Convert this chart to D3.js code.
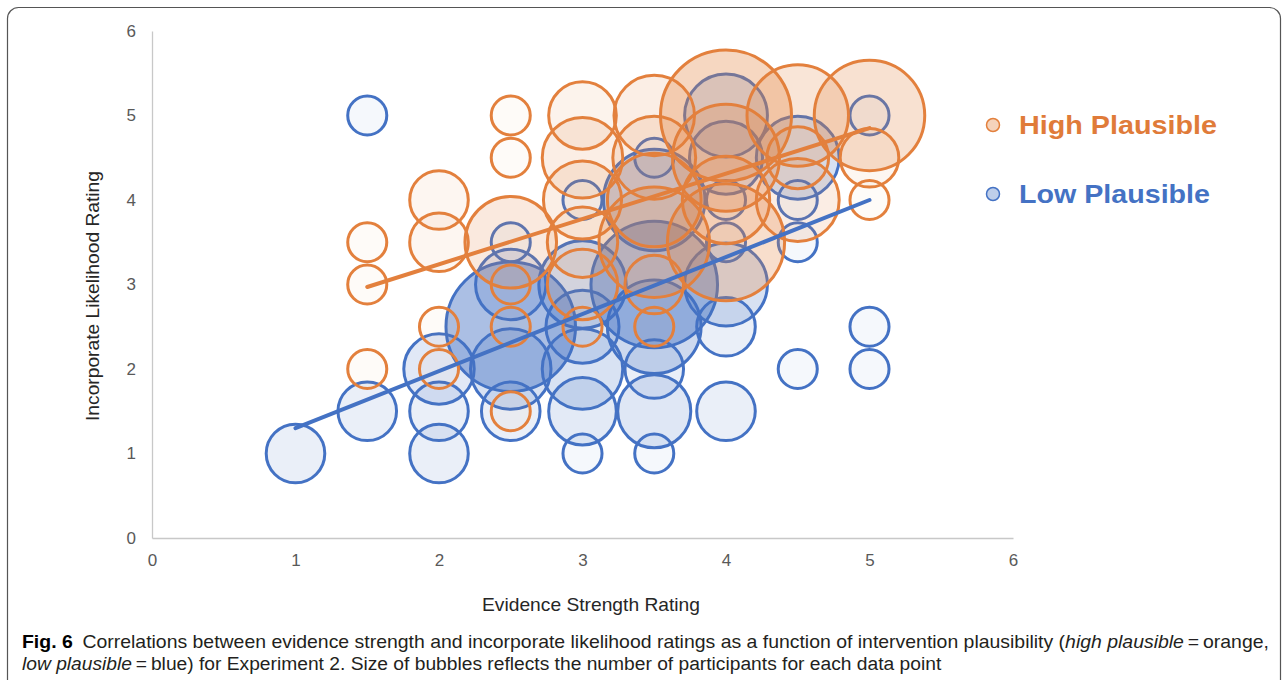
<!DOCTYPE html>
<html>
<head>
<meta charset="utf-8">
<script src="https://cdn.jsdelivr.net/npm/d3@7"></script>
<style>
  html, body { margin: 0; padding: 0; background: #fff; }
  svg { display: block; }
  .sans { font-family: "Liberation Sans", Arial, Helvetica, sans-serif; }
  .narrow { font-family: "Liberation Sans Narrow", "Arial Narrow", "Liberation Sans", Arial, sans-serif; }
</style>
</head>
<body>
<svg id="chart" width="1284" height="680"></svg>
<script>
// ---------- data ----------
const xTicks = [0, 1, 2, 3, 4, 5, 6];
const yTicks = [0, 1, 2, 3, 4, 5, 6];

// High Plausible (orange) bubbles: x, y, participant weight
const highX = [1.5, 1.5, 1.5, 2, 2, 2, 2, 2.5, 2.5, 2.5, 2.5, 2.5, 2.5, 3, 3, 3, 3, 3, 3, 3.5, 3.5, 3.5, 3.5, 3.5, 3.5, 4, 4, 4, 4, 4.5, 4.5, 4.5, 5, 5, 5];
const highY = [3.5, 3, 2, 4, 3.5, 2.5, 2, 5, 4.5, 3.5, 3, 2.5, 1.5, 5, 4.5, 4, 3.5, 3, 2.5, 5, 4.5, 4, 3.5, 3, 2.5, 5, 4.5, 4, 3.5, 5, 4.5, 4, 5, 4.5, 4];
const highN = [4, 4, 4, 9, 9, 4, 4, 4, 4, 22, 4, 4, 4, 12, 17, 16, 13, 13, 4, 17, 18, 23, 32, 9, 4, 45, 30, 20, 36, 27, 10, 18, 32, 9, 4];

// Low Plausible (blue) bubbles
const lowX = [1, 1.5, 1.5, 2, 2, 2, 2.5, 2.5, 2.5, 2.5, 2.5, 3, 3, 3, 3, 3, 3, 3.5, 3.5, 3.5, 3.5, 3.5, 3.5, 3.5, 4, 4, 4, 4, 4, 4, 4, 4.5, 4.5, 4.5, 4.5, 5, 5, 5];
const lowY = [1, 5, 1.5, 2, 1.5, 1, 3.5, 3, 2.5, 2, 1.5, 4, 3, 2.5, 2, 1.5, 1, 4.5, 4, 3, 2.5, 2, 1.5, 1, 5, 4.5, 4, 3.5, 3, 2.5, 1.5, 4.5, 4, 3.5, 2, 5, 2.5, 2];
const lowN = [9, 4, 9, 13, 9, 9, 4, 13, 44, 17, 9, 4, 20, 14, 17, 12, 4, 4, 27, 42, 23, 9, 14, 4, 18, 14, 4, 4, 18, 9, 9, 18, 4, 4, 4, 4, 4, 4];

// Linear trendlines: [slope, intercept], x range
const highTrend = [0.537, 2.165];
const highTrendRange = [1.5, 5];
const lowTrend = [0.675, 0.625];
const lowTrendRange = [1, 5];

const seriesNames = ["High Plausible", "Low Plausible"];

// ---------- drawing ----------
const W = 1284, H = 680;
const svg = d3.select("#chart");
const orange = "#e3803d", orangeText = "#e07b39", blue = "#4472c4";

svg.append("rect").attr("width", W).attr("height", H).attr("fill", "#fff");

// frame
svg.append("rect")
  .attr("x", 7.5).attr("y", 7.5).attr("width", 1273).attr("height", 720)
  .attr("rx", 11).attr("fill", "none").attr("stroke", "#555").attr("stroke-width", 1.2);

const x = d3.scaleLinear().domain([0, 6]).range([152, 1013]);
const y = d3.scaleLinear().domain([0, 6]).range([538, 31]);
const r = d3.scaleSqrt().domain([0, 45]).range([0, 65.5]);

// axes
const gx = svg.append("g").attr("transform", `translate(0,${y(0)})`)
  .call(d3.axisBottom(x).tickValues(xTicks).tickSize(0).tickPadding(16).tickFormat(d3.format("d")));
const gy = svg.append("g").attr("transform", `translate(${x(0)},0)`)
  .call(d3.axisLeft(y).tickValues(yTicks).tickSize(0).tickPadding(16).tickFormat(d3.format("d")));
[gx, gy].forEach(g => {
  g.attr("font-family", null).attr("font-size", null);
  g.select(".domain").attr("stroke", "#c8c8c8").attr("stroke-width", 1.3);
  g.selectAll("text").attr("class", "sans").style("font-size", "17px").attr("fill", "#595959");
});

// bubbles
function bubbles(xs, ys, ns, color, a) {
  const data = xs.map((d, i) => ({ x: d, y: ys[i], n: ns[i] }))
    .sort((p, q) => q.n - p.n);
  svg.append("g").selectAll("circle").data(data).join("circle")
    .attr("cx", d => x(d.x)).attr("cy", d => y(d.y)).attr("r", d => r(d.n))
    .attr("fill", color).attr("fill-opacity", d => 1 - Math.pow(1 - a, d.n))
    .attr("stroke", color).attr("stroke-width", 3);
}
bubbles(lowX, lowY, lowN, blue, 0.0135);
bubbles(highX, highY, highN, orange, 0.0085);

// trendlines
function trend(t, range, color) {
  svg.append("line")
    .attr("x1", x(range[0])).attr("y1", y(t[0] * range[0] + t[1]))
    .attr("x2", x(range[1])).attr("y2", y(t[0] * range[1] + t[1]))
    .attr("stroke", color).attr("stroke-width", 4).attr("stroke-linecap", "round");
}
trend(highTrend, highTrendRange, orange);
trend(lowTrend, lowTrendRange, blue);

// axis titles
svg.append("text").attr("class", "sans").attr("x", 591).attr("y", 611).attr("text-anchor", "middle")
  .style("font-size", "19px").attr("fill", "#262626")
  .attr("textLength", 218).attr("lengthAdjust", "spacingAndGlyphs")
  .text("Evidence Strength Rating");
svg.append("text").attr("class", "sans").attr("transform", "translate(99,296) rotate(-90)").attr("text-anchor", "middle")
  .style("font-size", "19px").attr("fill", "#262626")
  .attr("textLength", 250).attr("lengthAdjust", "spacingAndGlyphs")
  .text("Incorporate Likelihood Rating");

// legend
const legColors = [[orange, orangeText], [blue, blue]];
const legWidths = [198, 191];
seriesNames.forEach((name, i) => {
  const cy = 125 + i * 69;
  svg.append("circle").attr("cx", 993).attr("cy", cy).attr("r", 6.5)
    .attr("fill", legColors[i][0]).attr("fill-opacity", 0.35)
    .attr("stroke", legColors[i][0]).attr("stroke-width", 1.5);
  svg.append("text").attr("class", "sans").attr("x", 1019).attr("y", cy + 9)
    .style("font-weight", "bold").style("font-size", "25px")
    .attr("textLength", legWidths[i]).attr("lengthAdjust", "spacingAndGlyphs")
    .attr("fill", legColors[i][1]).text(name);
});

// caption
function captionLine(yPos, parts, targetW) {
  const t = svg.append("text").attr("class", "narrow").attr("x", 0).attr("y", 0)
    .style("font-size", "18px").attr("fill", "#231f20");
  parts.forEach(p => {
    const s = t.append("tspan").text(p.t);
    if (p.b) s.style("font-weight", "bold").attr("fill", "#000");
    if (p.i) s.style("font-style", "italic");
  });
  const w = t.node().getComputedTextLength();
  t.attr("transform", `translate(22,${yPos}) scale(${targetW / w},1)`);
}
captionLine(648, [
  { t: "Fig. 6", b: true },
  { t: "\u2002Correlations between evidence strength and incorporate likelihood ratings as a function of intervention plausibility (" },
  { t: "high plausible", i: true },
  { t: "\u2009=\u2009orange," }
], 1248);
captionLine(670, [
  { t: "low plausible", i: true },
  { t: "\u2009=\u2009blue) for Experiment 2. Size of bubbles reflects the number of participants for each data point" }
], 920);
</script>
</body>
</html>
